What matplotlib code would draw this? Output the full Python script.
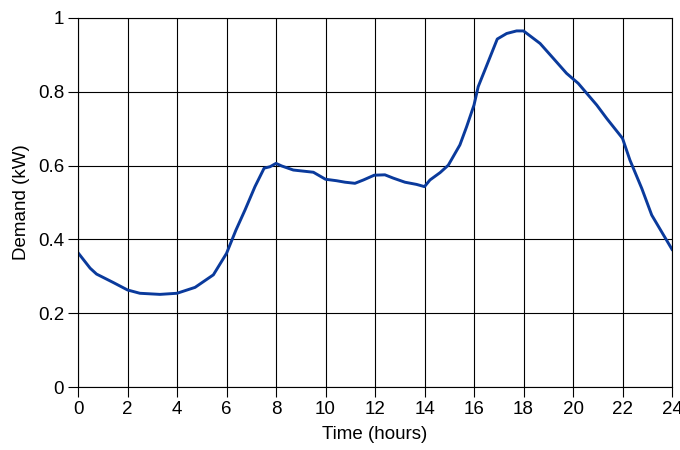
import numpy as np
import matplotlib.pyplot as plt
from matplotlib.ticker import FuncFormatter

hours = [0, 0.49, 0.75, 1.43, 2.0, 2.5, 3.31, 4.0, 4.73, 5.47, 6.0, 6.38, 6.75,
         7.15, 7.52, 7.76, 8.0, 8.23, 8.7, 9.51, 10.0, 10.45, 10.79, 11.19,
         11.53, 11.97, 12.4, 12.74, 13.21, 13.68, 14.0, 14.22, 14.63, 14.96,
         15.43, 15.7, 16.0, 16.17, 16.44, 16.94, 17.32, 17.72, 18.0, 18.67,
         19.2, 19.74, 20.21, 20.96, 21.36, 22.0, 22.3, 22.78, 23.18, 24.0]
demand = [0.364, 0.322, 0.306, 0.283, 0.263, 0.254, 0.251, 0.254, 0.270, 0.304,
          0.362, 0.425, 0.480, 0.543, 0.593, 0.597, 0.606, 0.599, 0.588, 0.582,
          0.563, 0.559, 0.555, 0.552, 0.561, 0.574, 0.575, 0.566, 0.555, 0.549,
          0.543, 0.561, 0.581, 0.601, 0.656, 0.705, 0.764, 0.814, 0.859, 0.943,
          0.958, 0.965, 0.965, 0.931, 0.891, 0.850, 0.823, 0.764, 0.728, 0.674,
          0.615, 0.538, 0.466, 0.373]

xticks = np.arange(0, 25, 2)
yticks = [0, 0.2, 0.4, 0.6, 0.8, 1.0]

plt.rcParams['font.family'] = ['Liberation Sans', 'DejaVu Sans']

fig = plt.figure(figsize=(6.8, 4.5), dpi=100)
ax = fig.add_axes([78 / 680, 1 - 387 / 450, 594 / 680, 369 / 450])

ax.plot(hours, demand, color='#0a3a9c', lw=2.1, solid_joinstyle='round')

ax.set_xlim(0, 24)
ax.set_ylim(0, 1)
ax.set_xticks(xticks)
ax.set_yticks(yticks)
ax.yaxis.set_major_formatter(FuncFormatter(lambda v, p: '%g' % v))
ax.grid(True, color='black', lw=0.8)
for s in ax.spines.values():
    s.set_color('black')
    s.set_linewidth(0.8)
ax.tick_params(direction='out', length=7, width=0.8, labelsize=13.5, pad=3)
ax.set_xlabel('Time (hours)', fontsize=13.5, labelpad=6)
ax.set_ylabel('Demand (kW)', fontsize=13.5, labelpad=6)

fig.savefig('out.png', dpi=100)
